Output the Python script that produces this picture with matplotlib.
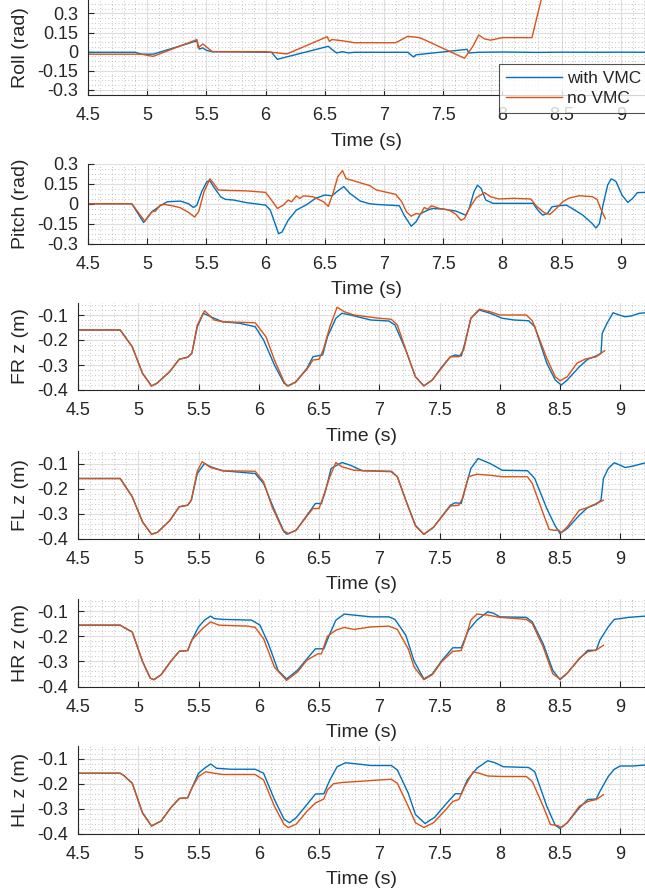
import numpy as np
import matplotlib
matplotlib.use("Agg")
from matplotlib import pyplot as plt
from matplotlib.ticker import MultipleLocator, AutoMinorLocator

# --- data (time in s) ---
roll_t_vmc = [4.5, 4.9, 4.95, 5.05, 5.42, 5.44, 5.47, 5.5, 5.55, 6.05, 6.1, 6.53, 6.57, 6.6, 6.65,
              6.7, 6.75, 7.2, 7.25, 7.27, 7.7, 7.72, 7.8, 8.0, 8.3, 8.5, 8.8, 9.0, 9.21]
roll_vmc = [-0.005, -0.005, -0.02, -0.02, 0.085, 0.02, 0.03, 0.01, 0.0, -0.005, -0.06, 0.042, 0.01,
            -0.01, 0.0, -0.01, -0.005, -0.005, -0.042, -0.025, 0.018, -0.01, -0.005, -0.003, -0.006,
            -0.004, -0.005, -0.004, -0.005]
roll_t_novmc = [4.5, 4.95, 5.05, 5.42, 5.43, 5.47, 5.55, 6.0, 6.18, 6.52, 6.54, 6.56, 6.65, 6.75,
                7.1, 7.2, 7.3, 7.35, 7.68, 7.75, 7.8, 7.85, 7.9, 8.0, 8.25, 8.3, 8.38]
roll_novmc = [-0.02, -0.02, -0.037, 0.095, 0.03, 0.06, 0.0, 0.0, -0.018, 0.117, 0.08, 0.095, 0.085,
              0.07, 0.07, 0.12, 0.11, 0.09, -0.052, 0.04, 0.13, 0.1, 0.09, 0.11, 0.11, 0.3, 0.6]

pitch_t_vmc = [4.5, 4.87, 4.97, 5.04, 5.11, 5.17, 5.28, 5.35, 5.39, 5.42, 5.46, 5.505, 5.53, 5.56,
               5.62, 5.66, 5.73, 5.84, 6.0, 6.04, 6.08, 6.11, 6.14, 6.19, 6.26, 6.35, 6.42, 6.5,
               6.56, 6.6, 6.66, 6.71, 6.8, 6.88, 6.935, 7.13, 7.17, 7.23, 7.27, 7.31, 7.37, 7.41,
               7.5, 7.61, 7.69, 7.72, 7.76, 7.79, 7.82, 7.86, 7.92, 8.26, 8.3, 8.34, 8.38, 8.42,
               8.48, 8.54, 8.59, 8.68, 8.76, 8.79, 8.82, 8.85, 8.89, 8.92, 8.96, 9.01, 9.06, 9.1,
               9.14, 9.21]
pitch_vmc = [0.0, 0.0, -0.142, -0.06, -0.015, 0.015, 0.02, 0.0, -0.028, -0.01, 0.09, 0.168, 0.173,
             0.13, 0.053, 0.033, 0.028, 0.008, -0.01, -0.048, -0.15, -0.226, -0.213, -0.125, -0.048,
             -0.005, 0.04, 0.066, 0.06, 0.09, 0.13, 0.08, 0.02, 0.0, -0.005, -0.015, -0.086, -0.17,
             -0.137, -0.074, -0.048, -0.036, -0.04, -0.056, -0.086, -0.036, 0.09, 0.14, 0.117,
             0.028, 0.003, 0.003, -0.048, -0.086, -0.074, -0.023, -0.015, -0.01, -0.036, -0.086,
             -0.15, -0.183, -0.15, -0.01, 0.142, 0.188, 0.168, 0.066, 0.01, 0.04, 0.084, 0.086]
pitch_t_novmc = [4.5, 4.87, 4.98, 5.04, 5.07, 5.11, 5.15, 5.21, 5.28, 5.35, 5.4, 5.435, 5.48, 5.53,
                 5.56, 5.6, 5.7, 5.84, 6.0, 6.04, 6.1, 6.15, 6.19, 6.22, 6.26, 6.29, 6.32, 6.4,
                 6.49, 6.53, 6.57, 6.61, 6.65, 6.68, 6.88, 6.935, 7.1, 7.15, 7.19, 7.23, 7.27, 7.31,
                 7.34, 7.37, 7.4, 7.47, 7.55, 7.61, 7.65, 7.68, 7.72, 7.78, 7.85, 7.9, 7.97, 8.09,
                 8.24, 8.28, 8.35, 8.4, 8.45, 8.51, 8.56, 8.65, 8.76, 8.8, 8.83, 8.87]
pitch_novmc = [0.0, 0.0, -0.132, -0.06, -0.056, -0.01, -0.005, -0.015, -0.03, -0.066, -0.1, -0.06,
               0.09, 0.188, 0.155, 0.104, 0.1, 0.097, 0.086, 0.04, -0.036, -0.01, 0.028, 0.015,
               0.06, 0.04, 0.06, 0.053, 0.015, -0.02, 0.08, 0.205, 0.25, 0.19, 0.137, 0.104, 0.071,
               0.015, -0.061, -0.094, -0.074, -0.079, -0.028, -0.041, -0.015, -0.036, -0.048,
               -0.081, -0.125, -0.112, -0.036, 0.046, 0.084, 0.053, 0.036, 0.041, 0.036, -0.01,
               -0.066, -0.081, -0.041, 0.015, 0.041, 0.061, 0.053, 0.033, -0.036, -0.112]

fr_t_vmc = [4.5, 4.85, 4.95, 5.035, 5.11, 5.155, 5.26, 5.34, 5.41, 5.445, 5.49, 5.54, 5.6, 5.7,
            5.84, 5.97, 6.04, 6.13, 6.21, 6.245, 6.31, 6.4, 6.45, 6.48, 6.53, 6.57, 6.64, 6.69,
            6.76, 6.93, 7.08, 7.13, 7.22, 7.3, 7.37, 7.44, 7.52, 7.59, 7.63, 7.68, 7.71, 7.76,
            7.83, 7.92, 8.02, 8.12, 8.24, 8.29, 8.39, 8.46, 8.51, 8.56, 8.66, 8.73, 8.8, 8.84,
            8.85, 8.89, 8.94, 8.99, 9.04, 9.09, 9.16, 9.21]
fr_vmc = [-0.16, -0.16, -0.227, -0.333, -0.384, -0.373, -0.327, -0.277, -0.269, -0.253, -0.147,
          -0.093, -0.107, -0.127, -0.133, -0.147, -0.2, -0.3, -0.373, -0.384, -0.367, -0.313,
          -0.267, -0.264, -0.26, -0.187, -0.113, -0.093, -0.1, -0.12, -0.124, -0.14, -0.24,
          -0.347, -0.384, -0.36, -0.307, -0.267, -0.26, -0.264, -0.213, -0.113, -0.08, -0.093,
          -0.113, -0.12, -0.123, -0.147, -0.293, -0.36, -0.38, -0.36, -0.307, -0.277, -0.264,
          -0.253, -0.173, -0.133, -0.091, -0.1, -0.107, -0.104, -0.093, -0.091]
fr_t_novmc = [4.5, 4.85, 4.95, 5.035, 5.11, 5.155, 5.26, 5.34, 5.41, 5.445, 5.49, 5.55, 5.63, 5.7,
              5.97, 6.06, 6.13, 6.21, 6.235, 6.3, 6.4, 6.45, 6.5, 6.535, 6.59, 6.65, 6.71, 6.79,
              7.0, 7.1, 7.15, 7.23, 7.3, 7.37, 7.44, 7.59, 7.66, 7.7, 7.76, 7.83, 7.92, 8.0, 8.22,
              8.27, 8.39, 8.46, 8.5, 8.56, 8.64, 8.71, 8.8, 8.87]
fr_novmc = [-0.16, -0.16, -0.227, -0.333, -0.384, -0.373, -0.327, -0.277, -0.269, -0.253, -0.14,
            -0.083, -0.12, -0.127, -0.131, -0.187, -0.28, -0.367, -0.384, -0.37, -0.317, -0.28,
            -0.277, -0.24, -0.147, -0.069, -0.087, -0.1, -0.113, -0.117, -0.14, -0.253, -0.347,
            -0.383, -0.36, -0.267, -0.267, -0.24, -0.113, -0.077, -0.087, -0.1, -0.1, -0.123,
            -0.273, -0.347, -0.363, -0.347, -0.293, -0.276, -0.267, -0.243]

fl_t_vmc = [4.5, 4.85, 4.95, 5.035, 5.11, 5.16, 5.26, 5.34, 5.41, 5.44, 5.49, 5.55, 5.6, 5.7, 5.97,
            6.04, 6.13, 6.21, 6.235, 6.31, 6.4, 6.47, 6.52, 6.555, 6.6, 6.69, 6.76, 6.86, 7.1,
            7.15, 7.23, 7.3, 7.37, 7.45, 7.59, 7.63, 7.68, 7.71, 7.76, 7.82, 7.92, 8.02, 8.23,
            8.29, 8.39, 8.46, 8.5, 8.56, 8.66, 8.73, 8.8, 8.84, 8.86, 8.9, 8.95, 9.0, 9.04, 9.1,
            9.21]
fl_vmc = [-0.16, -0.16, -0.233, -0.333, -0.383, -0.375, -0.329, -0.273, -0.267, -0.247, -0.14,
          -0.1, -0.113, -0.129, -0.14, -0.18, -0.287, -0.373, -0.383, -0.367, -0.307, -0.26, -0.26,
          -0.207, -0.12, -0.096, -0.107, -0.129, -0.131, -0.153, -0.26, -0.347, -0.383, -0.355,
          -0.267, -0.257, -0.26, -0.207, -0.12, -0.08, -0.1, -0.127, -0.129, -0.16, -0.28, -0.35,
          -0.38, -0.36, -0.307, -0.276, -0.263, -0.247, -0.16, -0.12, -0.097, -0.107, -0.116,
          -0.111, -0.097]
fl_t_novmc = [4.5, 4.85, 4.95, 5.035, 5.11, 5.16, 5.26, 5.34, 5.41, 5.44, 5.49, 5.53, 5.6, 5.7,
              5.97, 6.04, 6.11, 6.2, 6.245, 6.31, 6.4, 6.45, 6.5, 6.535, 6.59, 6.64, 6.69, 6.79,
              7.1, 7.15, 7.22, 7.3, 7.37, 7.45, 7.59, 7.66, 7.69, 7.74, 7.81, 7.92, 8.02, 8.23,
              8.27, 8.36, 8.41, 8.45, 8.49, 8.51, 8.56, 8.66, 8.73, 8.86]
fl_novmc = [-0.16, -0.16, -0.233, -0.333, -0.383, -0.375, -0.329, -0.273, -0.267, -0.247, -0.13,
            -0.093, -0.116, -0.129, -0.131, -0.173, -0.273, -0.367, -0.38, -0.367, -0.31, -0.28,
            -0.28, -0.233, -0.153, -0.096, -0.113, -0.127, -0.133, -0.153, -0.247, -0.35, -0.383,
            -0.355, -0.27, -0.267, -0.24, -0.153, -0.143, -0.147, -0.153, -0.153, -0.18, -0.3,
            -0.364, -0.367, -0.367, -0.377, -0.353, -0.287, -0.276, -0.247]

hr_t_vmc = [4.5, 4.85, 4.88, 4.95, 5.035, 5.1, 5.13, 5.19, 5.27, 5.34, 5.41, 5.445, 5.5, 5.55,
            5.6, 5.63, 5.7, 5.94, 6.01, 6.08, 6.16, 6.23, 6.32, 6.4, 6.47, 6.54, 6.59, 6.64,
            6.71, 6.79, 6.93, 7.08, 7.13, 7.22, 7.29, 7.37, 7.44, 7.52, 7.61, 7.68, 7.74, 7.81,
            7.9, 7.95, 8.0, 8.22, 8.27, 8.36, 8.44, 8.5, 8.56, 8.66, 8.73, 8.8, 8.83, 8.9, 8.95,
            9.0, 9.07, 9.21]
hr_vmc = [-0.156, -0.156, -0.165, -0.183, -0.3, -0.367, -0.373, -0.353, -0.3, -0.26, -0.257,
          -0.215, -0.163, -0.136, -0.12, -0.13, -0.133, -0.136, -0.156, -0.23, -0.336, -0.37,
          -0.336, -0.29, -0.25, -0.25, -0.19, -0.136, -0.112, -0.116, -0.123, -0.123, -0.133,
          -0.196, -0.3, -0.37, -0.35, -0.296, -0.246, -0.246, -0.176, -0.136, -0.103, -0.109,
          -0.123, -0.125, -0.143, -0.23, -0.336, -0.373, -0.347, -0.29, -0.256, -0.256, -0.216,
          -0.163, -0.133, -0.13, -0.125, -0.12]
hr_t_novmc = [4.5, 4.85, 4.88, 4.95, 5.035, 5.1, 5.13, 5.19, 5.27, 5.34, 5.41, 5.445, 5.53, 5.6,
              5.67, 5.91, 5.97, 6.04, 6.13, 6.23, 6.32, 6.4, 6.49, 6.52, 6.57, 6.64, 6.71, 6.79,
              6.93, 7.08, 7.15, 7.24, 7.29, 7.37, 7.44, 7.52, 7.61, 7.68, 7.71, 7.76, 7.81, 7.9,
              8.0, 8.22, 8.27, 8.36, 8.44, 8.5, 8.56, 8.66, 8.73, 8.8, 8.86]
hr_novmc = [-0.156, -0.156, -0.165, -0.183, -0.3, -0.367, -0.373, -0.353, -0.3, -0.26, -0.257,
            -0.215, -0.171, -0.143, -0.156, -0.16, -0.165, -0.21, -0.323, -0.376, -0.343, -0.295,
            -0.27, -0.27, -0.2, -0.176, -0.165, -0.173, -0.163, -0.16, -0.173, -0.25, -0.323,
            -0.373, -0.353, -0.3, -0.26, -0.257, -0.215, -0.136, -0.112, -0.116, -0.125, -0.133,
            -0.15, -0.243, -0.35, -0.37, -0.347, -0.288, -0.262, -0.255, -0.236]

hl_t_vmc = [4.5, 4.85, 4.88, 4.95, 5.035, 5.11, 5.19, 5.27, 5.34, 5.41, 5.445, 5.5, 5.55, 5.6,
            5.65, 5.77, 5.97, 6.04, 6.13, 6.21, 6.255, 6.31, 6.4, 6.47, 6.54, 6.59, 6.65, 6.72,
            6.82, 6.93, 7.1, 7.15, 7.24, 7.3, 7.38, 7.46, 7.55, 7.63, 7.68, 7.73, 7.81, 7.9, 7.96,
            8.03, 8.24, 8.29, 8.39, 8.46, 8.5, 8.56, 8.66, 8.73, 8.8, 8.83, 8.9, 8.95, 9.0, 9.1,
            9.21]
hl_vmc = [-0.159, -0.159, -0.168, -0.199, -0.317, -0.37, -0.35, -0.297, -0.26, -0.257, -0.218,
          -0.159, -0.139, -0.122, -0.139, -0.143, -0.143, -0.159, -0.264, -0.343, -0.357, -0.337,
          -0.284, -0.242, -0.241, -0.186, -0.133, -0.117, -0.122, -0.128, -0.128, -0.146, -0.238,
          -0.324, -0.36, -0.335, -0.284, -0.241, -0.241, -0.186, -0.139, -0.109, -0.117, -0.133,
          -0.136, -0.153, -0.291, -0.367, -0.38, -0.357, -0.297, -0.264, -0.262, -0.232, -0.172,
          -0.143, -0.13, -0.13, -0.126]
hl_t_novmc = [4.5, 4.85, 4.88, 4.95, 5.035, 5.11, 5.19, 5.27, 5.34, 5.41, 5.445, 5.5, 5.56, 5.63,
              5.7, 5.97, 6.04, 6.13, 6.21, 6.245, 6.31, 6.4, 6.47, 6.54, 6.57, 6.62, 6.69, 6.82,
              7.0, 7.1, 7.15, 7.24, 7.3, 7.37, 7.45, 7.54, 7.61, 7.66, 7.71, 7.78, 7.83, 7.9,
              8.02, 8.22, 8.27, 8.36, 8.42, 8.48, 8.51, 8.56, 8.66, 8.73, 8.8, 8.86]
hl_novmc = [-0.159, -0.159, -0.168, -0.199, -0.317, -0.37, -0.35, -0.297, -0.26, -0.257, -0.218,
            -0.172, -0.153, -0.159, -0.164, -0.164, -0.186, -0.291, -0.364, -0.376, -0.363,
            -0.311, -0.278, -0.262, -0.225, -0.201, -0.196, -0.192, -0.186, -0.183, -0.199,
            -0.291, -0.357, -0.376, -0.357, -0.311, -0.272, -0.264, -0.212, -0.153, -0.159,
            -0.17, -0.172, -0.172, -0.192, -0.291, -0.364, -0.368, -0.376, -0.357, -0.291,
            -0.272, -0.264, -0.245]

xticks = [4.5, 5, 5.5, 6, 6.5, 7, 7.5, 8, 8.5, 9]
angle_ticks = [-0.3, -0.15, 0, 0.15, 0.3]
z_ticks = [-0.4, -0.3, -0.2, -0.1]

BLUE = "#0072BD"
ORANGE = "#D95319"
DARK = "#262626"

plt.rcParams["font.family"] = ["Liberation Sans", "DejaVu Sans"]
plt.rcParams["text.color"] = DARK

W, H = 645, 890
fig = plt.figure(figsize=(W / 100, H / 100), dpi=100)

# (left px, top px, bottom px, ylim, ylabel, yticks, t_vmc, vmc, t_no, no)
panels = [
    (88, 0, 95, (-0.34, 0.405), "Roll (rad)", angle_ticks, roll_t_vmc, roll_vmc, roll_t_novmc, roll_novmc),
    (88, 164, 243.5, (-0.3, 0.3), "Pitch (rad)", angle_ticks, pitch_t_vmc, pitch_vmc, pitch_t_novmc, pitch_novmc),
    (78, 302.5, 390, (-0.4, -0.05), "FR z (m)", z_ticks, fr_t_vmc, fr_vmc, fr_t_novmc, fr_novmc),
    (78, 451, 538.5, (-0.4, -0.05), "FL z (m)", z_ticks, fl_t_vmc, fl_vmc, fl_t_novmc, fl_novmc),
    (78, 598.5, 686.5, (-0.4, -0.05), "HR z (m)", z_ticks, hr_t_vmc, hr_vmc, hr_t_novmc, hr_novmc),
    (78, 746, 833.5, (-0.4, -0.05), "HL z (m)", z_ticks, hl_t_vmc, hl_vmc, hl_t_novmc, hl_novmc),
]

axes = []
for left, top, bot, ylim, ylabel, yticks, tv, yv, tn, yn in panels:
    ax = fig.add_axes([left / W, 1 - bot / H, 1 - left / W, (bot - top) / H])
    ax.plot(tv, yv, color=BLUE, lw=1.0, label="with VMC")
    ax.plot(tn, yn, color=ORANGE, lw=1.0, label="no VMC")
    ax.set_xlim(4.5, 9.205)
    ax.set_ylim(*ylim)
    ax.set_xticks(xticks)
    ax.set_xticklabels([f"{v:g}" for v in xticks])
    ax.set_yticks(yticks)
    ax.set_yticklabels([f"{v:g}" for v in yticks])
    ax.xaxis.set_minor_locator(MultipleLocator(0.1))
    ax.yaxis.set_minor_locator(AutoMinorLocator(4 if "rad" in ylabel else 5))
    ax.grid(True, which="major", color="#dedede", lw=0.8)
    ax.grid(True, which="minor", color="#b0b0b0", lw=0.6, linestyle=(0, (1, 3)))
    ax.set_axisbelow(True)
    for s in ["top", "right"]:
        ax.spines[s].set_visible(False)
    for s in ["left", "bottom"]:
        ax.spines[s].set_color(DARK)
        ax.spines[s].set_linewidth(0.8)
    ax.tick_params(which="major", direction="in", length=4, width=0.8, colors=DARK,
                   labelsize=13)
    ax.tick_params(axis="x", which="major", pad=9)
    ax.tick_params(axis="y", which="major", pad=7)
    ax.tick_params(which="minor", length=0)
    ax.set_xlabel("Time (s)", fontsize=14, color=DARK, labelpad=6)
    ax.set_ylabel(ylabel, fontsize=14, color=DARK, labelpad=6)
    axes.append(ax)

leg = axes[0].legend(loc="upper left", bbox_to_anchor=(499 / W, 1 - 64 / H),
                     bbox_transform=fig.transFigure, fontsize=12.5, frameon=True,
                     fancybox=False, edgecolor=DARK, borderaxespad=0, borderpad=0.4,
                     labelspacing=0.3, handlelength=3.2, handletextpad=0.3)
leg.get_frame().set_linewidth(0.8)
leg.set_zorder(10)

fig.savefig("out.png", dpi=100)
